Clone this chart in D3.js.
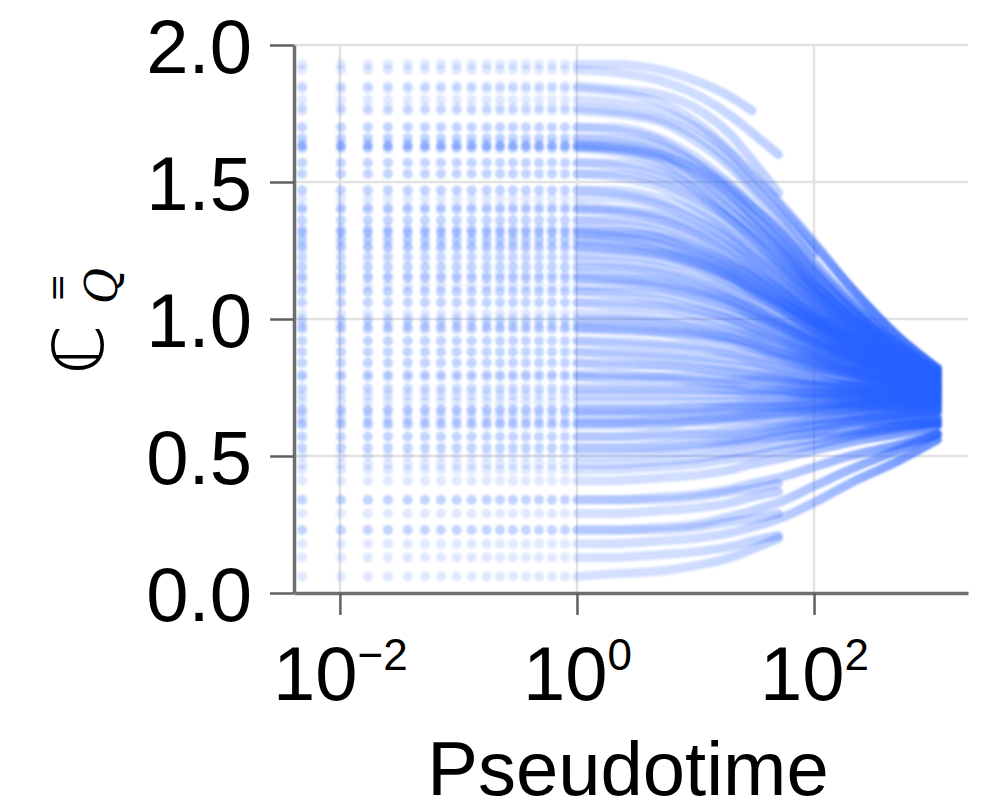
<!DOCTYPE html>
<html lang="en">
  <head>
    <meta charset="utf-8">
    <title>Pseudotime relaxation</title>
    <script src="https://d3js.org/d3.v7.min.js"></script>
    <style type="text/css">
      body {
        margin: 0;
        background: #fff;
      }
      svg {
        display: block;
      }
      .axis text {
        font-family: "Liberation Sans", Arial, sans-serif;
        fill: #000;
      }
      .axis .domain {
        stroke: #707070;
        stroke-width: 3.5px;
      }
      .axis .tick line {
        stroke: #606060;
        stroke-width: 2.5px;
      }
      .grid line {
        stroke: #e2e2e2;
        stroke-width: 2.5px;
      }
    </style>
  </head>
  <body>
    <script type="text/javascript">
      var width = 995, height = 810;

      // time columns of the early (stepwise) part of the runs
      var earlyTimes = [0.0048, 0.0102, 0.0172, 0.0254, 0.0373, 0.0522, 0.0712, 0.0966,
                        0.129, 0.173, 0.224, 0.288, 0.371, 0.478, 0.615, 0.792];
      // times at which each run is read after t = 1
      var anchorTimes = [1, 2, 5, 10, 20, 30, 50, 100, 200, 500, 1100];
      // one row per run, value at each anchor time (first value also holds for t < 1)
      var runs = [
        [1.93, 1.93, 1.91, 1.87, 1.81, 1.76],
        [1.91, 1.90, 1.87, 1.82, 1.74, 1.68, 1.60],
        [1.85, 1.84, 1.82, 1.77, 1.67, 1.58, 1.46],
        [1.84, 1.83, 1.79, 1.72, 1.61, 1.53, 1.43, 1.28, 1.12, 0.94, 0.82],
        [1.80, 1.79, 1.76, 1.70, 1.60, 1.52, 1.42, 1.27, 1.12, 0.94, 0.82],
        [1.77, 1.76, 1.73, 1.67, 1.57, 1.49, 1.39, 1.24],
        [1.76, 1.75, 1.72, 1.65, 1.55, 1.47, 1.37, 1.21, 1.07, 0.91, 0.81],
        [1.70, 1.70, 1.66, 1.59, 1.49, 1.42, 1.32, 1.17, 1.04, 0.90, 0.80],
        [1.70, 1.69, 1.65, 1.57, 1.46, 1.38, 1.28, 1.13, 1.01, 0.88, 0.80],
        [1.66, 1.66, 1.63, 1.57, 1.48, 1.41, 1.32, 1.17, 1.04, 0.90, 0.80],
        [1.66, 1.65, 1.61, 1.53, 1.43, 1.36, 1.27, 1.13, 1.01, 0.88, 0.79],
        [1.63, 1.63, 1.60, 1.54, 1.45, 1.38, 1.29, 1.15, 1.03, 0.89, 0.80],
        [1.63, 1.62, 1.59, 1.52, 1.42, 1.35, 1.26, 1.12, 1.01, 0.88, 0.79],
        [1.63, 1.62, 1.58, 1.50, 1.39, 1.32, 1.23, 1.10, 0.99, 0.87, 0.79],
        [1.62, 1.61, 1.56, 1.47, 1.36, 1.29, 1.20, 1.08, 0.98, 0.86, 0.78],
        [1.64, 1.63, 1.60, 1.55, 1.47, 1.41, 1.33, 1.19, 1.06, 0.91, 0.81],
        [1.57, 1.57, 1.54, 1.48, 1.39, 1.33, 1.25, 1.12, 1.01, 0.88, 0.79],
        [1.57, 1.56, 1.52, 1.45, 1.36, 1.30, 1.21, 1.09, 0.98, 0.86, 0.78],
        [1.53, 1.53, 1.50, 1.44, 1.36, 1.30, 1.22, 1.10, 0.99, 0.87, 0.79],
        [1.53, 1.52, 1.48, 1.41, 1.32, 1.26, 1.18, 1.06, 0.96, 0.85, 0.78],
        [1.47, 1.47, 1.44, 1.39, 1.31, 1.25, 1.18, 1.07, 0.97, 0.86, 0.78],
        [1.47, 1.46, 1.42, 1.36, 1.28, 1.22, 1.14, 1.03, 0.94, 0.84, 0.77],
        [1.44, 1.44, 1.41, 1.36, 1.29, 1.23, 1.16, 1.05, 0.96, 0.85, 0.78],
        [1.40, 1.40, 1.38, 1.33, 1.26, 1.21, 1.14, 1.04, 0.95, 0.85, 0.78],
        [1.40, 1.39, 1.36, 1.31, 1.23, 1.18, 1.11, 1.01, 0.93, 0.83, 0.77],
        [1.41, 1.40, 1.37, 1.32, 1.25, 1.19, 1.12, 1.02, 0.94, 0.84, 0.77],
        [1.36, 1.36, 1.34, 1.29, 1.22, 1.17, 1.11, 1.01, 0.93, 0.84, 0.77],
        [1.36, 1.35, 1.32, 1.27, 1.20, 1.15, 1.08, 0.99, 0.92, 0.83, 0.77],
        [1.32, 1.32, 1.30, 1.26, 1.20, 1.16, 1.10, 1.01, 0.93, 0.84, 0.77],
        [1.32, 1.31, 1.29, 1.24, 1.18, 1.13, 1.07, 0.99, 0.92, 0.83, 0.77],
        [1.33, 1.32, 1.30, 1.25, 1.19, 1.15, 1.09, 1.00, 0.92, 0.83, 0.77],
        [1.31, 1.30, 1.27, 1.22, 1.16, 1.11, 1.05, 0.97, 0.90, 0.82, 0.76],
        [1.29, 1.29, 1.27, 1.23, 1.17, 1.13, 1.07, 0.99, 0.91, 0.83, 0.76],
        [1.29, 1.28, 1.25, 1.21, 1.15, 1.10, 1.04, 0.96, 0.89, 0.82, 0.76],
        [1.26, 1.26, 1.24, 1.20, 1.15, 1.11, 1.06, 0.98, 0.91, 0.83, 0.76],
        [1.26, 1.25, 1.23, 1.19, 1.13, 1.09, 1.04, 0.96, 0.90, 0.82, 0.76],
        [1.27, 1.26, 1.24, 1.21, 1.16, 1.12, 1.07, 0.99, 0.92, 0.83, 0.77],
        [1.23, 1.23, 1.21, 1.18, 1.13, 1.09, 1.04, 0.97, 0.90, 0.82, 0.76],
        [1.22, 1.21, 1.19, 1.15, 1.10, 1.06, 1.01, 0.94, 0.88, 0.81, 0.76],
        [1.19, 1.19, 1.17, 1.14, 1.09, 1.05, 1.00, 0.94, 0.88, 0.81, 0.76],
        [1.19, 1.18, 1.16, 1.12, 1.07, 1.03, 0.98, 0.92, 0.87, 0.80, 0.75],
        [1.15, 1.15, 1.14, 1.11, 1.07, 1.04, 0.99, 0.93, 0.87, 0.81, 0.75],
        [1.15, 1.14, 1.12, 1.09, 1.05, 1.01, 0.97, 0.91, 0.86, 0.80, 0.75],
        [1.16, 1.15, 1.13, 1.10, 1.06, 1.02, 0.98, 0.92, 0.87, 0.80, 0.75],
        [1.12, 1.12, 1.11, 1.08, 1.04, 1.01, 0.97, 0.91, 0.86, 0.80, 0.75],
        [1.10, 1.10, 1.09, 1.06, 1.02, 0.99, 0.95, 0.90, 0.86, 0.80, 0.75],
        [1.10, 1.09, 1.07, 1.04, 1.00, 0.97, 0.93, 0.88, 0.84, 0.79, 0.75],
        [1.06, 1.06, 1.05, 1.03, 1.00, 0.97, 0.94, 0.89, 0.85, 0.79, 0.75],
        [1.06, 1.05, 1.04, 1.01, 0.98, 0.95, 0.92, 0.87, 0.83, 0.78, 0.74],
        [1.02, 1.02, 1.01, 0.99, 0.96, 0.94, 0.91, 0.87, 0.83, 0.78, 0.74],
        [1.00, 1.00, 0.99, 0.97, 0.95, 0.93, 0.90, 0.86, 0.82, 0.78, 0.74],
        [0.99, 0.99, 0.98, 0.96, 0.93, 0.91, 0.88, 0.84, 0.81, 0.77, 0.74],
        [0.97, 0.97, 0.96, 0.95, 0.93, 0.91, 0.88, 0.85, 0.81, 0.77, 0.74],
        [0.97, 0.96, 0.95, 0.93, 0.91, 0.89, 0.86, 0.83, 0.80, 0.76, 0.73],
        [0.96, 0.96, 0.95, 0.94, 0.92, 0.90, 0.87, 0.84, 0.81, 0.77, 0.74],
        [0.92, 0.92, 0.91, 0.90, 0.88, 0.87, 0.85, 0.82, 0.80, 0.76, 0.73],
        [0.92, 0.91, 0.90, 0.89, 0.87, 0.85, 0.83, 0.81, 0.78, 0.75, 0.73],
        [0.88, 0.88, 0.87, 0.86, 0.85, 0.84, 0.82, 0.80, 0.78, 0.75, 0.73],
        [0.88, 0.87, 0.86, 0.85, 0.83, 0.82, 0.80, 0.78, 0.76, 0.74, 0.72],
        [0.84, 0.84, 0.83, 0.82, 0.81, 0.80, 0.79, 0.77, 0.76, 0.74, 0.72],
        [0.84, 0.83, 0.83, 0.82, 0.80, 0.79, 0.78, 0.76, 0.75, 0.73, 0.72],
        [0.79, 0.79, 0.79, 0.78, 0.77, 0.77, 0.76, 0.75, 0.74, 0.73, 0.72],
        [0.79, 0.78, 0.78, 0.77, 0.76, 0.75, 0.74, 0.73, 0.73, 0.72, 0.71],
        [0.80, 0.80, 0.79, 0.79, 0.78, 0.78, 0.77, 0.76, 0.75, 0.74, 0.73],
        [0.75, 0.75, 0.75, 0.75, 0.74, 0.74, 0.74, 0.73, 0.73, 0.72, 0.72],
        [0.74, 0.74, 0.74, 0.74, 0.74, 0.73, 0.73, 0.73, 0.72, 0.72, 0.71],
        [0.72, 0.72, 0.72, 0.72, 0.72, 0.72, 0.72, 0.72, 0.72, 0.71, 0.71],
        [0.70, 0.70, 0.70, 0.70, 0.70, 0.70, 0.70, 0.71, 0.71, 0.71, 0.71],
        [0.67, 0.67, 0.67, 0.67, 0.68, 0.68, 0.68, 0.69, 0.69, 0.70, 0.70],
        [0.67, 0.67, 0.67, 0.68, 0.68, 0.69, 0.69, 0.70, 0.70, 0.70, 0.70],
        [0.66, 0.66, 0.66, 0.66, 0.67, 0.67, 0.68, 0.68, 0.69, 0.69, 0.70],
        [0.64, 0.64, 0.64, 0.65, 0.65, 0.66, 0.66, 0.67, 0.68, 0.69, 0.70],
        [0.62, 0.62, 0.62, 0.63, 0.64, 0.64, 0.65, 0.66, 0.67, 0.68, 0.69],
        [0.62, 0.62, 0.63, 0.63, 0.64, 0.65, 0.66, 0.67, 0.68, 0.69, 0.69],
        [0.61, 0.61, 0.61, 0.62, 0.62, 0.63, 0.63, 0.64, 0.65, 0.66, 0.67],
        [0.57, 0.57, 0.58, 0.58, 0.59, 0.60, 0.61, 0.63, 0.65, 0.67, 0.68],
        [0.57, 0.57, 0.57, 0.58, 0.58, 0.59, 0.60, 0.61, 0.62, 0.63, 0.64],
        [0.53, 0.53, 0.54, 0.55, 0.56, 0.57, 0.59, 0.61, 0.63, 0.65, 0.67],
        [0.53, 0.53, 0.53, 0.54, 0.55, 0.56, 0.57, 0.58, 0.59, 0.61, 0.62],
        [0.50, 0.50, 0.51, 0.52, 0.54, 0.55, 0.57, 0.59, 0.62, 0.64, 0.66],
        [0.47, 0.47, 0.48, 0.49, 0.51, 0.52, 0.54, 0.56, 0.58, 0.61, 0.63],
        [0.45, 0.45, 0.46, 0.47, 0.49, 0.50, 0.52, 0.54, 0.57, 0.60, 0.62],
        [0.41, 0.41, 0.42, 0.43, 0.45, 0.47, 0.49, 0.52, 0.55, 0.58, 0.61],
        [0.34, 0.34, 0.35, 0.36, 0.38, 0.40, 0.42, 0.46, 0.50, 0.54, 0.58],
        [0.34, 0.34, 0.34, 0.35, 0.37, 0.38, 0.40],
        [0.29, 0.29, 0.30, 0.31, 0.33, 0.35, 0.37],
        [0.23, 0.23, 0.24, 0.25, 0.28, 0.30, 0.33, 0.39, 0.45, 0.52, 0.58],
        [0.23, 0.23, 0.23, 0.24, 0.26, 0.27, 0.29],
        [0.18, 0.18, 0.19, 0.20, 0.22, 0.24, 0.27, 0.33, 0.40, 0.48, 0.56],
        [0.13, 0.13, 0.14, 0.15, 0.17, 0.19, 0.21],
        [0.06, 0.07, 0.08, 0.10, 0.13, 0.16, 0.20]
      ];
      var yTicks = [0, 0.5, 1.0, 1.5, 2.0];
      var xTicks = [0.01, 1, 100];

      var blue = '#2962ff';

      var svg = d3.select('body').append('svg')
        .attr('width', width)
        .attr('height', height);

      var x = d3.scaleLog().domain([0.0041, 1990]).range([294, 968]);
      var y = d3.scaleLinear().domain([0, 2]).range([593, 45]);

      // grid underneath everything
      var grid = svg.append('g').attr('class', 'grid');
      grid.selectAll('line.h')
        .data(yTicks.filter(function(d) { return d > 0; }))
        .enter().append('line')
        .attr('class', 'h')
        .attr('x1', x.range()[0]).attr('x2', x.range()[1])
        .attr('y1', y).attr('y2', y);
      grid.selectAll('line.v')
        .data(xTicks)
        .enter().append('line')
        .attr('class', 'v')
        .attr('x1', x).attr('x2', x)
        .attr('y1', y.range()[0]).attr('y2', y.range()[1]);

      var defs = svg.append('defs');
      // stroke gets denser with time, like the sampled points do on a log axis
      var grad = defs.append('linearGradient')
        .attr('id', 'fade')
        .attr('gradientUnits', 'userSpaceOnUse')
        .attr('x1', x(1)).attr('x2', x(1100))
        .attr('y1', 0).attr('y2', 0);
      [[0, 0.19], [0.33, 0.22], [0.56, 0.3], [0.75, 0.46], [0.88, 0.6], [1, 0.72]].forEach(function(s) {
        grad.append('stop')
          .attr('offset', s[0])
          .attr('stop-color', blue)
          .attr('stop-opacity', s[1]);
      });
      // the reference is a soft raster, a light blur brings that look
      defs.append('filter')
        .attr('id', 'soft')
        .attr('x', '-5%').attr('y', '-5%')
        .attr('width', '110%').attr('height', '110%')
        .append('feGaussianBlur')
        .attr('stdDeviation', 1.3);

      var line = d3.line()
        .defined(function(d) { return d[1] != null; })
        .x(function(d) { return x(d[0]); })
        .y(function(d) { return y(d[1]); })
        .curve(d3.curveMonotoneX);

      var plot = svg.append('g').attr('filter', 'url(#soft)');

      plot.selectAll('path.run')
        .data(runs)
        .enter().append('path')
        .attr('class', 'run')
        .attr('d', function(r) {
          return line(r.map(function(v, i) { return [anchorTimes[i], v]; }));
        })
        .attr('fill', 'none')
        .attr('stroke', 'url(#fade)')
        .attr('stroke-width', 9)
        .attr('stroke-linecap', 'round')
        .attr('stroke-linejoin', 'round');

      // early stepwise points: each run sits at its starting value
      var dots = [];
      runs.forEach(function(r) {
        earlyTimes.forEach(function(t) { dots.push([t, r[0]]); });
      });
      plot.selectAll('circle')
        .data(dots)
        .enter().append('circle')
        .attr('cx', function(d) { return x(d[0]); })
        .attr('cy', function(d) { return y(d[1]); })
        .attr('r', 5)
        .attr('fill', blue)
        .attr('fill-opacity', 0.15);

      // axes
      var yAxis = svg.append('g')
        .attr('class', 'axis')
        .attr('transform', 'translate(294,0)')
        .call(d3.axisLeft(y).tickValues(yTicks).tickSize(24).tickSizeOuter(0)
          .tickPadding(18).tickFormat(d3.format('.1f')));
      yAxis.selectAll('.tick text')
        .attr('font-size', 76)
        .attr('dy', '0.36em');

      var xAxis = svg.append('g')
        .attr('class', 'axis')
        .attr('transform', 'translate(0,593)')
        .call(d3.axisBottom(x).tickValues(xTicks).tickSize(22).tickSizeOuter(0)
          .tickFormat(''));
      xAxis.selectAll('.tick text')
        .attr('font-size', 76)
        .attr('y', 107)
        .attr('dy', null)
        .each(function(d) {
          var t = d3.select(this);
          var e = Math.round(Math.log10(d));
          t.append('tspan').text('10');
          t.append('tspan')
            .attr('font-size', 44)
            .attr('dy', -30)
            .text(e < 0 ? '\u2212' + (-e) : String(e));
        });

      // axis titles
      svg.append('text')
        .attr('x', 628)
        .attr('y', 795)
        .attr('text-anchor', 'middle')
        .attr('font-family', '"Liberation Sans", Arial, sans-serif')
        .attr('font-size', 76)
        .text('Pseudotime');

      var ylab = svg.append('g')
        .attr('transform', 'translate(103,374) rotate(-90)')
        .attr('fill', '#000');
      ylab.append('text')
        .attr('x', 0).attr('y', 0)
        .attr('font-family', '"DejaVu Sans", sans-serif')
        .attr('font-size', 70)
        .text('\u2102');
      ylab.append('text')
        .attr('x', 70).attr('y', 14)
        .attr('font-family', '"DejaVu Serif", serif')
        .attr('font-style', 'italic')
        .attr('font-size', 44)
        .text('Q');
      ylab.append('text')
        .attr('x', 72).attr('y', -34)
        .attr('font-family', '"DejaVu Sans", sans-serif')
        .attr('font-size', 34)
        .text('=');
    </script>
  </body>
</html>
